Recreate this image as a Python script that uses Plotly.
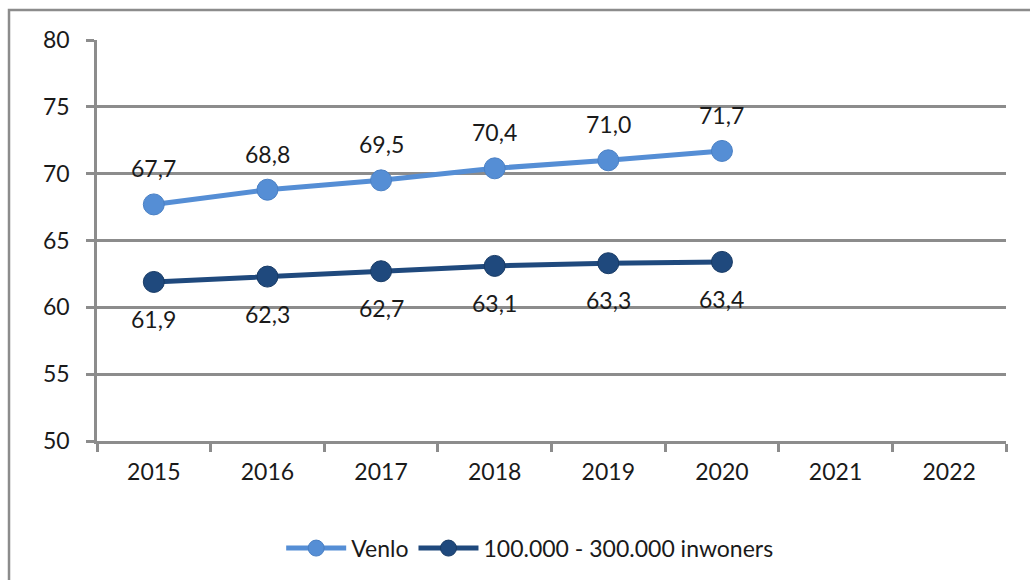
import plotly.graph_objects as go

# Jaren op de categorie-as (2021 en 2022 nog zonder waarden)
years = ["2015", "2016", "2017", "2018", "2019", "2020", "2021", "2022"]
data_years = ["2015", "2016", "2017", "2018", "2019", "2020"]

venlo = [67.7, 68.8, 69.5, 70.4, 71.0, 71.7]
gemeenten_100k_300k = [61.9, 62.3, 62.7, 63.1, 63.3, 63.4]

y_ticks = [50, 55, 60, 65, 70, 75, 80]

LIGHT = "#558ED5"
DARK = "#1F497D"
GRID = "#8C8C8C"
FONT = "Lato"
FS = 23

fig = go.Figure()

fig.add_trace(go.Scatter(
    x=data_years, y=venlo, name="Venlo", mode="lines+markers",
    line=dict(color=LIGHT, width=5),
    marker=dict(color=LIGHT, size=21, line=dict(color="#4A80C4", width=1)),
))
fig.add_trace(go.Scatter(
    x=data_years, y=gemeenten_100k_300k, name="100.000 - 300.000 inwoners",
    mode="lines+markers",
    line=dict(color=DARK, width=5),
    marker=dict(color=DARK, size=21, line=dict(color="#183B66", width=1)),
))

# Gegevenslabels: Venlo boven de punten, de groep eronder
def fmt(v):
    return f"{v:.1f}".replace(".", ",")

for x, v in zip(data_years, venlo):
    fig.add_annotation(x=years.index(x), y=v, text=fmt(v), showarrow=False,
                       yshift=36, font=dict(family=FONT, size=FS, color="#1a1a1a"))
for x, v in zip(data_years, gemeenten_100k_300k):
    fig.add_annotation(x=years.index(x), y=v, text=fmt(v), showarrow=False,
                       yshift=-37, font=dict(family=FONT, size=FS, color="#1a1a1a"))

# Kader rond de hele grafiek
fig.add_shape(type="rect", xref="paper", yref="paper",
              x0=-0.0968, x1=1.2, y0=-0.6, y1=1.0746,
              line=dict(color=GRID, width=2.5), fillcolor="rgba(0,0,0,0)",
              layer="below")

fig.update_layout(
    width=1030, height=580,
    margin=dict(l=97, r=24, t=40, b=138),
    paper_bgcolor="white", plot_bgcolor="white",
    font=dict(family=FONT, size=FS, color="#1a1a1a"),
    showlegend=True,
    legend=dict(orientation="h", x=0.476, xanchor="center", y=-0.264,
                yanchor="middle", font=dict(family=FONT, size=FS),
                itemwidth=60, bgcolor="rgba(0,0,0,0)"),
)

fig.update_xaxes(
    type="category", categoryorder="array", categoryarray=years,
    range=[-0.5, 7.5], tickson="boundaries",
    ticks="outside", ticklen=8, tickwidth=2.5, tickcolor=GRID,
    showline=True, linecolor=GRID, linewidth=2.5,
    showgrid=False, zeroline=False,
    ticklabelstandoff=9,
)
fig.update_yaxes(
    range=[50, 80], tickvals=y_ticks,
    ticks="outside", ticklen=8, tickwidth=2.5, tickcolor=GRID,
    showline=True, linecolor=GRID, linewidth=2.5,
    showgrid=True, gridcolor=GRID, gridwidth=2.5, zeroline=False,
    ticklabelstandoff=12,
)

fig.write_html("out.html")
